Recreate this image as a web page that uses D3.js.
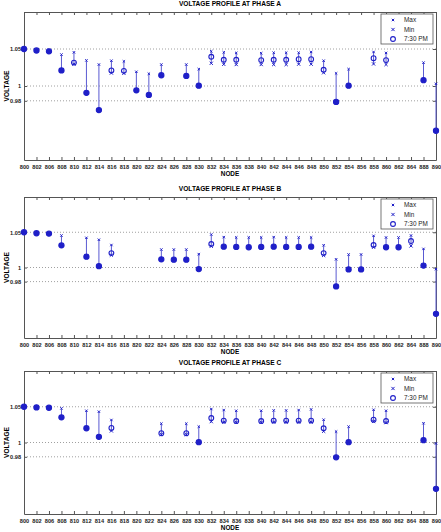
<!DOCTYPE html>
<html>
<head>
<meta charset="utf-8">
<script src="https://cdn.jsdelivr.net/npm/d3@7"></script>
<style>
  body { margin: 0; background: #fff; }
  svg { display: block; }
  text { font-family: "Liberation Sans", Arial, sans-serif; }
  .axis path, .axis line { stroke: #555; stroke-width: 1; }
  .axis text { font-size: 5.6px; font-weight: bold; fill: #222; }
</style>
</head>
<body>
<script>
const WIDTH = 441;
const HEIGHT = 532;
const LEFT = 24;
const RIGHT = 436;

const nodes = ['800','802','806','808','810','812','814','816','818','820','822','824','826','828','830','832','834',
  '836','838','840','842','844','846','848','850','852','854','856','858','860','862','864','888','890'];

// phase A
const maxA = [1.050,1.048,1.049,1.0425,1.0455,1.0346,1.029,1.0342,1.0333,1.0192,1.0166,1.029,null,1.029,1.0228,1.0469,1.0455,
  1.0447,null,1.0443,1.045,1.045,1.045,1.046,1.0342,1.0171,1.0228,null,1.046,1.0447,null,null,1.0316,1.003];
const minA = [1.050,1.048,1.0469,1.021,1.0295,0.9908,0.9675,1.0175,1.0171,0.9942,0.988,1.0145,null,1.0136,1.0004,1.0307,1.0293,
  1.029,null,1.029,1.029,1.029,1.0295,1.0295,1.0179,0.9785,1.0004,null,1.0298,1.029,null,null,1.0079,0.9395];
const valA = [1.050,1.048,1.0469,1.021,1.0316,0.9908,0.9675,1.021,1.0205,0.9942,0.988,1.0145,null,1.0136,1.0004,1.0395,1.0355,
  1.0355,null,1.035,1.0355,1.0355,1.0363,1.0363,1.0219,0.9785,1.0004,null,1.0376,1.035,null,null,1.0079,0.9395];

// phase B
const maxB = [1.050,1.0486,1.049,1.0454,null,1.0421,1.0394,1.0319,null,null,null,1.0255,1.0255,1.0255,1.019,1.0468,1.0431,
  1.0426,1.0426,1.0426,1.0431,1.0426,1.0426,1.0426,1.0315,1.0116,1.0185,1.0185,1.0449,1.0426,1.0426,1.0454,1.0264,0.9977];
const minB = [1.050,1.0486,1.0481,1.0315,null,1.0153,1.0019,1.0176,null,null,null,1.0116,1.0111,1.0111,0.9977,1.0301,1.0296,
  1.0292,1.0287,1.0292,1.0296,1.0292,1.0292,1.0296,1.0171,0.9731,0.9972,0.9972,1.0287,1.0287,1.0287,1.0306,1.0028,0.9343];
const valB = [1.050,1.0486,1.0481,1.0315,null,1.0153,1.0019,1.0204,null,null,null,1.0116,1.0111,1.0111,0.9977,1.0333,1.0296,
  1.0292,1.0287,1.0292,1.0296,1.0292,1.0292,1.0296,1.0204,0.9731,0.9972,0.9972,1.0319,1.0287,1.0287,1.0375,1.0028,0.9343];

// phase C
const maxC = [1.050,1.0491,1.0486,1.0477,null,1.0444,1.0431,1.0315,null,null,null,1.0264,null,1.0264,1.0222,1.0468,1.0454,
  1.0444,null,1.0444,1.0449,1.0449,1.0454,1.0463,1.0319,1.0153,1.0222,null,1.0458,1.0444,null,null,1.0269,0.9986];
const minC = [1.050,1.0491,1.0486,1.0352,null,1.0199,1.0079,1.0162,null,null,null,1.0112,null,1.0112,1.0005,1.0292,1.0284,
  1.0282,null,1.0282,1.0285,1.0285,1.0285,1.0285,1.0157,0.9792,1.0005,null,1.0296,1.0278,null,null,1.0032,0.9352];
const valC = [1.050,1.0491,1.0486,1.0352,null,1.0199,1.0079,1.0204,null,null,null,1.013,null,1.013,1.0005,1.0343,1.0306,
  1.0301,null,1.0301,1.0306,1.0306,1.0306,1.0306,1.0199,0.9792,1.0005,null,1.0319,1.0301,null,null,1.0032,0.9352];

const yTicks = [0.98, 1, 1.05];
const legendLabels = ['Max', 'Min', '7:30 PM'];

const panels = [
  {title: 'VOLTAGE PROFILE AT PHASE A', top: 12, bottom: 160, max: maxA, min: minA, val: valA},
  {title: 'VOLTAGE PROFILE AT PHASE B', top: 197, bottom: 338, max: maxB, min: minB, val: valB},
  {title: 'VOLTAGE PROFILE AT PHASE C', top: 371, bottom: 514, max: maxC, min: minC, val: valC},
];

const BLUE = '#1f1fc8';
const STEM = '#5a5ad2';

const svg = d3.select('body').append('svg')
  .attr('width', WIDTH)
  .attr('height', HEIGHT);

const xScale = d3.scalePoint()
  .domain(nodes)
  .range([LEFT, RIGHT])
  .padding(0);

function xMark(g, cx, cy, s) {
  g.append('path')
    .attr('d', `M${cx - s},${cy - s}L${cx + s},${cy + s}M${cx - s},${cy + s}L${cx + s},${cy - s}`)
    .attr('stroke', BLUE)
    .attr('stroke-width', 1)
    .attr('fill', 'none');
}

// when the min "x" sits inside the circle the two marks merge into a blob
function oMark(g, cx, cy, solid) {
  g.append('circle')
    .attr('cx', cx)
    .attr('cy', cy)
    .attr('r', solid ? 2.6 : 2.4)
    .attr('fill', solid ? BLUE : 'none')
    .attr('stroke', BLUE)
    .attr('stroke-width', 1.1);
}

function buildPanel(p) {
  const yScale = d3.scaleLinear()
    .domain([0.9, 1.1])
    .range([p.bottom, p.top]);

  const g = svg.append('g');

  // grid
  g.selectAll('.grid')
    .data(yTicks)
    .enter()
    .append('line')
    .attr('x1', LEFT)
    .attr('x2', RIGHT)
    .attr('y1', (d) => yScale(d))
    .attr('y2', (d) => yScale(d))
    .attr('stroke', '#888')
    .attr('stroke-width', 0.8)
    .attr('stroke-dasharray', '1,2');

  // axes
  g.append('g')
    .attr('class', 'axis')
    .attr('transform', `translate(0, ${p.bottom})`)
    .call(d3.axisBottom(xScale).tickSize(-3).tickSizeOuter(0).tickPadding(5));

  g.append('g')
    .attr('class', 'axis')
    .attr('transform', `translate(0, ${p.top})`)
    .call(d3.axisTop(xScale).tickSize(-3).tickSizeOuter(0).tickFormat(''));

  g.append('g')
    .attr('class', 'axis')
    .attr('transform', `translate(${LEFT}, 0)`)
    .call(d3.axisLeft(yScale).tickValues(yTicks).tickSize(-3).tickSizeOuter(0).tickPadding(3)
      .tickFormat((d) => d === 1 ? '1' : String(d)));

  g.append('g')
    .attr('class', 'axis')
    .attr('transform', `translate(${RIGHT}, 0)`)
    .call(d3.axisRight(yScale).tickValues(yTicks).tickSize(-3).tickSizeOuter(0).tickFormat(''));

  // titles
  g.append('text')
    .attr('x', 230)
    .attr('y', p.top - 6)
    .attr('text-anchor', 'middle')
    .style('font-size', '6.6px')
    .style('font-weight', 'bold')
    .text(p.title);

  g.append('text')
    .attr('x', 230)
    .attr('y', p.bottom + 16)
    .attr('text-anchor', 'middle')
    .style('font-size', '6.4px')
    .style('font-weight', 'bold')
    .text('NODE');

  const midY = yScale(1.0);
  g.append('text')
    .attr('transform', `translate(9, ${midY}) rotate(-90)`)
    .attr('text-anchor', 'middle')
    .style('font-size', '6.6px')
    .style('font-weight', 'bold')
    .text('VOLTAGE');

  // data
  const marks = g.append('g');
  nodes.forEach((n, i) => {
    if (p.val[i] == null) return;
    const cx = xScale(n);
    marks.append('line')
      .attr('x1', cx).attr('x2', cx)
      .attr('y1', yScale(p.max[i]))
      .attr('y2', yScale(p.min[i]))
      .attr('stroke', STEM)
      .attr('stroke-width', 1);
    xMark(marks, cx, yScale(p.max[i]), 1.2);
    xMark(marks, cx, yScale(p.min[i]), 1.6);
    const solid = Math.abs(yScale(p.min[i]) - yScale(p.val[i])) < 1;
    oMark(marks, cx, yScale(p.val[i]), solid);
  });

  // legend
  const lg = g.append('g').attr('transform', `translate(381, ${p.top + 2})`);
  lg.append('rect')
    .attr('width', 52)
    .attr('height', 30)
    .attr('fill', '#fff')
    .attr('stroke', '#555')
    .attr('stroke-width', 0.8);
  legendLabels.forEach((lab, k) => {
    const ly = 6 + k * 9.5;
    if (k === 0) xMark(lg, 12, ly, 1.2);
    if (k === 1) xMark(lg, 12, ly, 1.6);
    if (k === 2) oMark(lg, 12, ly, false);
    lg.append('text')
      .attr('x', 23)
      .attr('y', ly + 2.2)
      .style('font-size', '6.4px')
      .style('fill', '#222')
      .text(lab);
  });
}

panels.forEach(buildPanel);
</script>
</body>
</html>
